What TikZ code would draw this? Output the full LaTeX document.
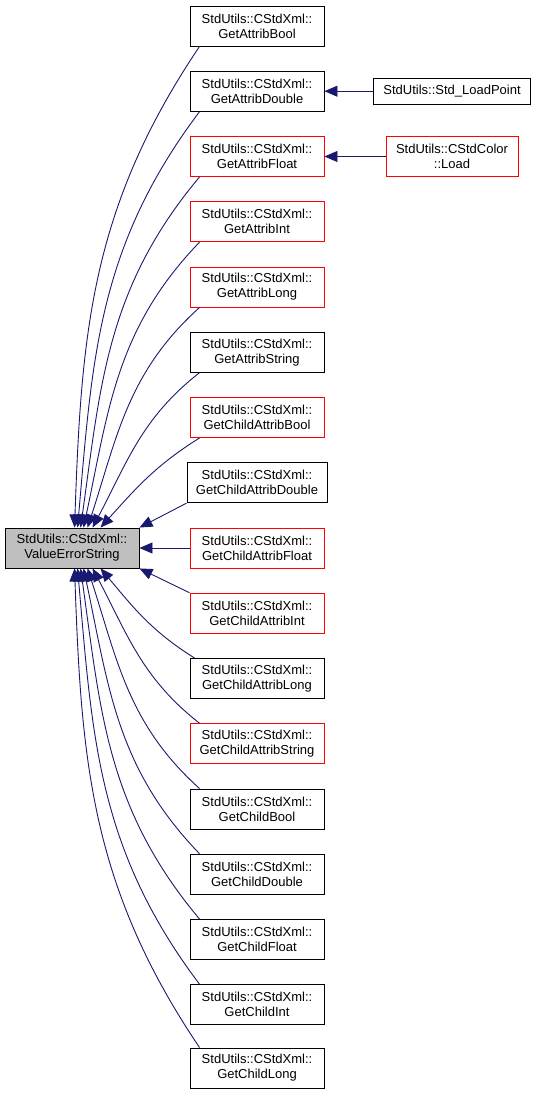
\documentclass[tikz,border=0pt]{standalone}
\usepackage{fontspec}
\setmainfont{Liberation Sans}
\usetikzlibrary{arrows.meta, positioning}
\definecolor{callblue}{RGB}{25,25,112}
\definecolor{fngray}{RGB}{191,191,191}
\definecolor{fnred}{RGB}{255,0,0}

\tikzset{
  fn/.style={draw=black, line width=0.9pt, rectangle, minimum width=134pt, minimum height=40pt,
             inner sep=0pt, align=center, font=\fontsize{13}{15}\selectfont},
  fnbad/.style={fn, draw=fnred},
  call/.style={callblue, line width=0.9pt, -{Triangle[length=13pt, width=11pt]}}
}

\begin{document}
\begin{tikzpicture}[x=1pt, y=-1pt]
  \useasboundingbox (0,0) rectangle (536,1097);

  % Function being called
  \node[fn, fill=fngray] (value) at (72,548) {StdUtils::CStdXml::\\ValueErrorString};

  % Callers
  \node[fn]    (attbool)   at (257,26)   {StdUtils::CStdXml::\\GetAttribBool};
  \node[fn]    (attdouble) at (257,91.2) {StdUtils::CStdXml::\\GetAttribDouble};
  \node[fnbad] (attfloat)  at (257,156.5) {StdUtils::CStdXml::\\GetAttribFloat};
  \node[fnbad] (attint)    at (257,221.7) {StdUtils::CStdXml::\\GetAttribInt};
  \node[fnbad] (attlong)   at (257,287)  {StdUtils::CStdXml::\\GetAttribLong};
  \node[fn]    (attstring) at (257,352.2) {StdUtils::CStdXml::\\GetAttribString};
  \node[fnbad] (cattbool)  at (257,417.5) {StdUtils::CStdXml::\\GetChildAttribBool};
  \node[fn, minimum width=140pt] (cattdouble) at (257,482.7) {StdUtils::CStdXml::\\GetChildAttribDouble};
  \node[fnbad] (cattfloat) at (257,548)  {StdUtils::CStdXml::\\GetChildAttribFloat};
  \node[fnbad] (cattint)   at (257,613.2) {StdUtils::CStdXml::\\GetChildAttribInt};
  \node[fn]    (cattlong)  at (257,678.5) {StdUtils::CStdXml::\\GetChildAttribLong};
  \node[fnbad] (cattstring) at (257,743.7) {StdUtils::CStdXml::\\GetChildAttribString};
  \node[fn]    (cbool)     at (257,809)  {StdUtils::CStdXml::\\GetChildBool};
  \node[fn]    (cdouble)   at (257,874.2) {StdUtils::CStdXml::\\GetChildDouble};
  \node[fn]    (cfloat)    at (257,939.5) {StdUtils::CStdXml::\\GetChildFloat};
  \node[fn]    (cint)      at (257,1004.7) {StdUtils::CStdXml::\\GetChildInt};
  \node[fn]    (clong)     at (257,1068) {StdUtils::CStdXml::\\GetChildLong};

  % Second level callers
  \node[fn, minimum width=157pt, minimum height=26pt] (loadpoint) at (452,91.2) {StdUtils::Std\_LoadPoint};
  \node[fnbad, minimum width=132pt] (colorload) at (452,156.5) {StdUtils::CStdColor\\::Load};

  % Calls into ValueErrorString (upper half)
  \draw[call] ([xshift=10pt]attbool.south west)   to[out=236, in=88] ([xshift=70pt]value.north west);
  \draw[call] ([xshift=10pt]attdouble.south west) to[out=233, in=85] ([xshift=73pt]value.north west);
  \draw[call] ([xshift=10pt]attfloat.south west)  to[out=230, in=82] ([xshift=76pt]value.north west);
  \draw[call] ([xshift=10pt]attint.south west)    to[out=226, in=78] ([xshift=79pt]value.north west);
  \draw[call] ([xshift=10pt]attlong.south west)   to[out=222, in=72] ([xshift=83pt]value.north west);
  \draw[call] ([xshift=10pt]attstring.south west) to[out=218, in=62] ([xshift=88pt]value.north west);
  \draw[call] ([xshift=10pt]cattbool.south west)  to[out=212, in=48] ([xshift=96pt]value.north west);
  \draw[call] (cattdouble.south west) -- (value.north east);
  \draw[call] (cattfloat.west) -- (value.east);
  \draw[call] (cattint.north west) -- (value.south east);

  % Calls into ValueErrorString (lower half)
  \draw[call] ([xshift=5pt]cattlong.north west)    to[out=148, in=-50] ([xshift=96pt]value.south west);
  \draw[call] ([xshift=10pt]cattstring.north west) to[out=142, in=-62] ([xshift=88pt]value.south west);
  \draw[call] ([xshift=10pt]cbool.north west)      to[out=138, in=-72] ([xshift=83pt]value.south west);
  \draw[call] ([xshift=10pt]cdouble.north west)    to[out=134, in=-78] ([xshift=79pt]value.south west);
  \draw[call] ([xshift=10pt]cfloat.north west)     to[out=130, in=-82] ([xshift=76pt]value.south west);
  \draw[call] ([xshift=10pt]cint.north west)       to[out=127, in=-85] ([xshift=73pt]value.south west);
  \draw[call] ([xshift=10pt]clong.north west)      to[out=124, in=-88] ([xshift=70pt]value.south west);

  % Calls into the attribute getters
  \draw[call] (loadpoint.west) -- (attdouble.east);
  \draw[call] (colorload.west) -- (attfloat.east);
\end{tikzpicture}
\end{document}
